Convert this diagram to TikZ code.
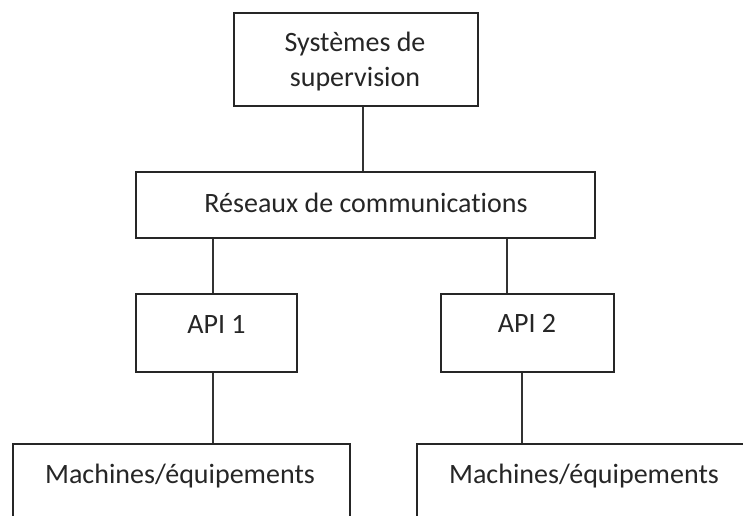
\documentclass[tikz,border=0pt]{standalone}
\usepackage{fontspec}
\setmainfont[Ligatures=NoCommon]{Carlito}
\begin{document}
\begin{tikzpicture}[x=1pt,y=-1pt,
  box/.style={draw=black!85, line width=1.3pt, fill=white, inner sep=0pt, rectangle},
  lbl/.style={font=\fontsize{28}{35}\selectfont, text=black!85, inner sep=0pt, align=center},
  wire/.style={draw=black!80, line width=1.3pt}]
\clip (0,0) rectangle (743,515);
\fill[white] (0,0) rectangle (743,515);
% boxes
\node[box, minimum width=244pt, minimum height=93pt] (sup) at (356,59.5) {};
\node[box, minimum width=459pt, minimum height=66pt] (res) at (365.5,205) {};
\node[box, minimum width=161pt, minimum height=78pt] (api1) at (216.5,333) {};
\node[box, minimum width=173pt, minimum height=78pt] (api2) at (527.5,333) {};
\node[box, minimum width=337pt, minimum height=116pt] (m1) at (181.5,502) {};
\node[box, minimum width=363pt, minimum height=116pt] (m2) at (598.5,502) {};
% labels
\node[lbl] (tsup) at (355,62) {Systèmes de\\supervision};
\node[lbl, anchor=base] (tres) at (366,212) {Réseaux de communications};
\node[lbl, anchor=base] (tapi1) at (216.5,333) {API 1};
\node[lbl, anchor=base] (tapi2) at (527,332) {API 2};
\node[lbl, anchor=base] (tm1) at (180,483) {Machines/équipements};
\node[lbl, anchor=base] (tm2) at (584,483) {Machines/équipements};
% connectors
\draw[wire] ([xshift=7pt]sup.south) -- ([xshift=7pt]sup.south |- res.north);
\draw[wire] ([xshift=-3.5pt]api1.north) -- ([xshift=-3.5pt]api1.north |- res.south);
\draw[wire] ([xshift=-20.5pt]api2.north) -- ([xshift=-20.5pt]api2.north |- res.south);
\draw[wire] ([xshift=-3.5pt]api1.south) -- ([xshift=-3.5pt]api1.south |- m1.north);
\draw[wire] ([xshift=-5.5pt]api2.south) -- ([xshift=-5.5pt]api2.south |- m2.north);
\end{tikzpicture}
\end{document}
